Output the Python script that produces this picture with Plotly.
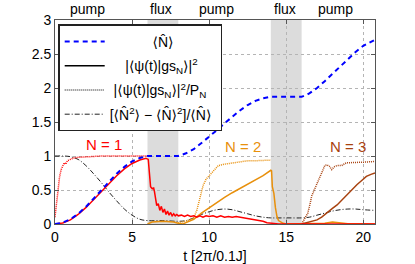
import plotly.graph_objects as go

# ---------------- data ----------------
t_N = [0, 0.5, 1, 1.5, 2, 2.5, 3, 3.5, 4, 4.5, 5, 5.5, 6, 7, 8, 8.5, 9, 9.5, 10, 10.5, 11,
       11.5, 12, 12.5, 13, 13.5, 14, 15, 16, 16.5, 17, 17.5, 18, 18.5, 19, 19.5, 20, 20.5, 20.76]
N_mean = [0, 0.02, 0.07, 0.15, 0.25, 0.37, 0.50, 0.62, 0.74, 0.84, 0.92, 0.97, 1.0, 1.0, 1.0,
          1.04, 1.10, 1.19, 1.28, 1.38, 1.48, 1.58, 1.67, 1.75, 1.81, 1.85, 1.87, 1.87, 1.87,
          1.92, 2.0, 2.1, 2.21, 2.32, 2.43, 2.53, 2.62, 2.68, 2.71]

t_var = [0, 0.5, 1, 1.5, 2, 2.5, 3, 3.5, 4, 4.5, 5, 5.5, 6, 7, 8, 8.5, 9, 9.5, 10, 10.5, 11,
         11.5, 12, 12.5, 13, 13.5, 14, 15, 16, 16.5, 17, 17.5, 18, 18.5, 19, 19.5, 20, 20.76]
N_var = [1.0, 1.0, 0.99, 0.95, 0.86, 0.74, 0.61, 0.47, 0.34, 0.22, 0.13, 0.07, 0.05, 0.05, 0.04,
         0.05, 0.09, 0.14, 0.18, 0.21, 0.22, 0.21, 0.18, 0.15, 0.12, 0.10, 0.09, 0.09, 0.09,
         0.10, 0.13, 0.16, 0.19, 0.21, 0.22, 0.22, 0.21, 0.20]

t_gs1 = [0, 0.5, 1, 1.5, 2, 2.5, 3, 3.5, 4, 4.5, 5, 5.5, 5.9, 6.05,
         6.1, 6.15, 6.2, 6.3, 6.4, 6.45, 6.5, 6.55, 6.6, 6.7, 6.8, 6.9, 7.0, 7.1, 7.2, 7.3, 7.4,
         7.5, 7.6, 7.7, 7.8, 7.9, 8.0, 8.2, 8.4, 8.6, 8.8, 9.0, 9.2, 9.4, 9.6, 9.8, 10, 10.25,
         10.5, 10.75, 11, 11.25, 11.5, 11.75, 12, 12.25, 12.5, 12.75, 13, 13.25, 13.5, 13.75,
         14, 14.5, 15, 16, 18, 20, 20.76]
gs1 = [0, 0.015, 0.06, 0.14, 0.24, 0.36, 0.48, 0.60, 0.71, 0.81, 0.89, 0.94, 0.965, 0.95,
       0.80, 0.68, 0.55, 0.52, 0.53, 0.48, 0.42, 0.33, 0.27, 0.30, 0.20, 0.26, 0.17, 0.22, 0.14,
       0.19, 0.13, 0.17, 0.12, 0.15, 0.12, 0.14, 0.12, 0.13, 0.11, 0.13, 0.11, 0.12, 0.10, 0.12,
       0.10, 0.12, 0.11, 0.12, 0.10, 0.12, 0.10, 0.11, 0.10, 0.11, 0.10, 0.10, 0.09, 0.08, 0.07,
       0.05, 0.04, 0.02, 0.01, 0, 0, 0, 0, 0, 0]

t_gs1_rel = [0, 0.1, 0.2, 0.3, 0.4, 0.5, 0.6, 0.7, 0.8, 1.0, 1.2, 1.5, 2, 3, 4, 5, 6]
gs1_rel = [0.10, 0.30, 0.52, 0.70, 0.80, 0.86, 0.90, 0.88, 0.93, 0.95, 0.97, 0.98, 0.99, 1.0,
           1.0, 1.0, 1.0]

t_gs2 = [6, 6.3, 7, 7.7, 8, 8.3, 8.5, 9, 9.5, 10, 10.5, 11, 11.5, 12, 12.5, 13, 13.5, 14.0,
         14.05, 14.1, 14.2, 14.3, 14.4, 14.5, 14.8, 15, 16, 17, 17.5, 18, 18.5, 19, 20, 20.76]
gs2 = [0.0, 0.03, 0.04, 0.03, 0.01, 0.0, 0.02, 0.07, 0.16, 0.24, 0.32, 0.39, 0.46, 0.52, 0.58,
       0.64, 0.71, 0.79, 0.78, 0.55, 0.45, 0.24, 0.11, 0.05, 0.01, 0, 0, 0, 0.01, 0.03, 0.02,
       0.005, 0.005, 0]

t_gs2_rel = [8, 8.5, 9.0, 9.2, 9.4, 9.6, 9.8, 10.0, 10.3, 10.6, 11.0, 11.5, 12, 12.5, 13, 13.5, 14]
gs2_rel = [0.02, 0.04, 0.09, 0.20, 0.38, 0.56, 0.66, 0.71, 0.77, 0.86, 0.88, 0.90, 0.91, 0.93,
           0.93, 0.94, 0.94]

t_gs3 = [16, 16.3, 16.7, 17.0, 17.3, 17.6, 18.0, 18.3, 18.6, 18.9, 19.2, 19.6, 19.9, 20.2, 20.5, 20.76]
gs3 = [0, 0.015, 0.035, 0.06, 0.10, 0.16, 0.23, 0.28, 0.35, 0.43, 0.50, 0.58, 0.64, 0.70, 0.73, 0.75]

t_gs3_rel = [16.0, 16.1, 16.25, 16.4, 16.55, 16.65, 16.8, 16.9, 17.0, 17.1, 17.2, 17.3, 17.4, 17.5,
             17.65, 17.8, 17.95, 18.1, 18.3, 18.6, 18.9, 19.2, 19.6, 20.1, 20.76]
gs3_rel = [0.0, 0.04, 0.10, 0.16, 0.30, 0.41, 0.49, 0.55, 0.60, 0.65, 0.70, 0.75, 0.80, 0.86,
           0.87, 0.85, 0.80, 0.84, 0.86, 0.86, 0.90, 0.90, 0.91, 0.91, 0.92]

flux_start = [6, 14]
flux_end = [8, 16]
stage_labels = ["pump", "flux", "pump", "flux", "pump"]
stage_label_t = [2.1, 6.9, 10.5, 14.9, 18.2]

N_labels = ["N = 1", "N = 2", "N = 3"]
N_label_t = [3.2, 12.2, 19.0]
N_label_y = [1.17, 1.14, 1.14]

legend_names = ["\u27e8N\u0302\u27e9",
                "|\u27e8\u03c8(t)|gs<sub>N</sub>\u27e9|<sup>2</sup>",
                "|\u27e8\u03c8(t)|gs<sub>N</sub>\u27e9|<sup>2</sup>/P<sub>N</sub>",
                "[\u27e8N\u0302<sup>2</sup>\u27e9 \u2212 \u27e8N\u0302\u27e9<sup>2</sup>]/\u27e8N\u0302\u27e9"]
# padding (non-breaking spaces) so the legend texts sit centred as in the original
legend_lead = [11, 4, 1, 0]
legend_trail = [0, 0, 0, 1]
NB = "\u00a0"
legend_text = [NB * a + s + NB * b for s, a, b in zip(legend_names, legend_lead, legend_trail)]

# ---------------- styles ----------------
RED = "#ff0000"
ORANGE = "#e8900c"
BROWN = "#a8420f"
BLUE = "#0000ff"
FONT = "Liberation Sans, Arial, DejaVu Sans, sans-serif"

fig = go.Figure()

for xs, xe in zip(flux_start, flux_end):
    fig.add_vrect(x0=xs, x1=xe, fillcolor="#dcdcdc", opacity=1, line_width=0, layer="below")

fig.add_trace(go.Scatter(x=t_var, y=N_var, mode="lines", name=legend_text[3], legendrank=4,
                         legendgroup="g4",
                         line=dict(color="#222222", width=1, dash="5px,2px,1px,2px", shape="spline")))
fig.add_trace(go.Scatter(x=t_gs1_rel, y=gs1_rel, mode="lines", showlegend=False,
                         line=dict(color=RED, width=1.5, dash="1px,1px")))
fig.add_trace(go.Scatter(x=t_gs2_rel, y=gs2_rel, mode="lines", showlegend=False,
                         line=dict(color=ORANGE, width=1.5, dash="1px,1px")))
fig.add_trace(go.Scatter(x=t_gs3_rel, y=gs3_rel, mode="lines", showlegend=False,
                         line=dict(color=BROWN, width=1.5, dash="1px,1px")))
fig.add_trace(go.Scatter(x=t_gs2, y=gs2, mode="lines", showlegend=False,
                         line=dict(color=ORANGE, width=1.5)))
fig.add_trace(go.Scatter(x=t_gs3, y=gs3, mode="lines", showlegend=False,
                         line=dict(color=BROWN, width=1.5)))
fig.add_trace(go.Scatter(x=t_gs1, y=gs1, mode="lines", showlegend=False,
                         line=dict(color=RED, width=1.5)))
# legend-only entries for the black solid / dotted samples
fig.add_trace(go.Scatter(x=[None], y=[None], mode="lines", name=legend_text[1], legendrank=2,
                         legendgroup="g2", line=dict(color="black", width=1.5)))
fig.add_trace(go.Scatter(x=[None], y=[None], mode="lines", name=legend_text[2], legendrank=3,
                         legendgroup="g3", line=dict(color="black", width=1.2, dash="1px,1px")))
fig.add_trace(go.Scatter(x=t_N, y=N_mean, mode="lines", name=legend_text[0], legendrank=1,
                         legendgroup="g1", line=dict(color=BLUE, width=2, dash="5px,4px")))

for lab, tx in zip(stage_labels, stage_label_t):
    fig.add_annotation(x=tx, y=1.0, xref="x", yref="paper", yshift=1, text=lab,
                       showarrow=False, yanchor="bottom",
                       font=dict(size=14, color="black", family=FONT))

for lab, tx, ty, col in zip(N_labels, N_label_t, N_label_y, [RED, ORANGE, BROWN]):
    fig.add_annotation(x=tx, y=ty, xref="x", yref="y", text=lab, showarrow=False,
                       font=dict(size=15, color=col, family=FONT))

axis_common = dict(showline=True, linecolor="#555555", linewidth=1, mirror="ticks",
                   ticks="inside", ticklen=4, tickcolor="#555555",
                   showgrid=True, gridcolor="#b4b4b4", griddash="dot", gridwidth=1,
                   zeroline=False, tickfont=dict(size=14, color="black", family=FONT))

fig.update_xaxes(range=[0, 20.76], tickvals=[0, 5, 10, 15, 20],
                 title=dict(text="t [2\u03c0/0.1J]", font=dict(size=14, color="black", family=FONT),
                            standoff=12),
                 **axis_common)
fig.update_yaxes(range=[0, 3], tickvals=[0, 0.5, 1, 1.5, 2, 2.5, 3], **axis_common)

fig.update_layout(
    width=415, height=264,
    margin=dict(l=55, r=40, t=20, b=40, autoexpand=False),
    paper_bgcolor="white", plot_bgcolor="white",
    font=dict(family=FONT, size=14, color="black"),
    legend=dict(x=0.01, y=0.978, xanchor="left", yanchor="top", bgcolor="white",
                bordercolor="#222222", borderwidth=1.5, font=dict(size=14, family=FONT),
                itemwidth=40, tracegroupgap=3),
)

fig.write_html("out.html", config={"displayModeBar": False},
               post_script="document.body.style.margin='0px';")
